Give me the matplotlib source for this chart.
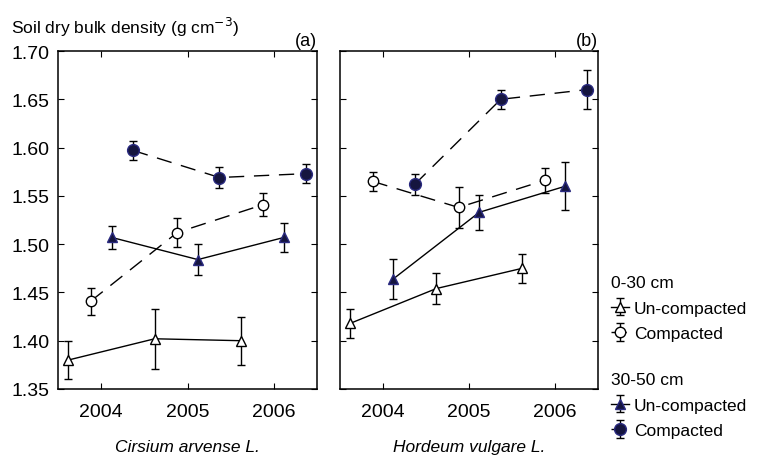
import numpy as np
import matplotlib.pyplot as plt

plt.rcParams['font.family'] = ['Liberation Sans', 'DejaVu Sans']

years = np.array([2004, 2005, 2006])
# offsets keep the four series apart within each year
offsets = {'u030': -0.38, 'c030': -0.12, 'u3050': 0.12, 'c3050': 0.37}

# panel (a) Cirsium arvense
a_u030 = [1.380, 1.402, 1.400]
a_u030_err = [0.020, 0.031, 0.025]
a_c030 = [1.441, 1.512, 1.541]
a_c030_err = [0.014, 0.015, 0.012]
a_u3050 = [1.507, 1.484, 1.507]
a_u3050_err = [0.012, 0.016, 0.015]
a_c3050 = [1.597, 1.569, 1.573]
a_c3050_err = [0.010, 0.011, 0.010]

# panel (b) Hordeum vulgare
b_u030 = [1.418, 1.454, 1.475]
b_u030_err = [0.015, 0.016, 0.015]
b_c030 = [1.565, 1.538, 1.566]
b_c030_err = [0.010, 0.021, 0.013]
b_u3050 = [1.464, 1.533, 1.560]
b_u3050_err = [0.021, 0.018, 0.025]
b_c3050 = [1.562, 1.650, 1.660]
b_c3050_err = [0.011, 0.010, 0.020]

navy = '#15153f'
edge = '#2a2a80'

fig = plt.figure(figsize=(7.65, 4.64), dpi=100)
ax1 = fig.add_axes([0.0758, 0.1595, 0.3386, 0.7284])
ax2 = fig.add_axes([0.4444, 0.1595, 0.3373, 0.7284])

dash = (0, (11, 7))


def draw(ax, u030, u030e, c030, c030e, u3050, u3050e, c3050, c3050e):
    common = dict(capsize=3, elinewidth=1, capthick=1, ecolor='black',
                  lw=1, color='black')
    h1 = ax.errorbar(years + offsets['u030'], u030, yerr=u030e, fmt='^-',
                     mfc='white', mec='black', ms=7, **common)
    h2 = ax.errorbar(years + offsets['c030'], c030, yerr=c030e, fmt='o',
                     ls=dash, mfc='white', mec='black', ms=7.5, **common)
    h3 = ax.errorbar(years + offsets['u3050'], u3050, yerr=u3050e, fmt='^-',
                     mfc=navy, mec=edge, ms=7, **common)
    h4 = ax.errorbar(years + offsets['c3050'], c3050, yerr=c3050e, fmt='o',
                     ls=dash, mfc=navy, mec=edge, ms=8.5, **common)
    ax.set_xlim(2003.5, 2006.5)
    ax.set_ylim(1.35, 1.70)
    ax.set_xticks(years)
    ax.set_yticks(np.arange(1.35, 1.701, 0.05))
    ax.tick_params(direction='in', top=True, right=True, length=4,
                   labelsize=14)
    ax.tick_params(axis='x', pad=10)
    ax.tick_params(axis='y', pad=6)
    for s in ax.spines.values():
        s.set_linewidth(1.1)
    return h1, h2, h3, h4


h = draw(ax1, a_u030, a_u030_err, a_c030, a_c030_err,
         a_u3050, a_u3050_err, a_c3050, a_c3050_err)
draw(ax2, b_u030, b_u030_err, b_c030, b_c030_err,
     b_u3050, b_u3050_err, b_c3050, b_c3050_err)

ax1.yaxis.set_major_formatter(plt.FormatStrFormatter('%.2f'))
ax2.set_yticklabels([])

ax1.set_xlabel('Cirsium arvense L.', fontstyle='italic', fontsize=12.5,
               labelpad=14)
ax2.set_xlabel('Hordeum vulgare L.', fontstyle='italic', fontsize=12.5,
               labelpad=14)

fig.text(0.014, 0.94, 'Soil dry bulk density (g cm$^{-3}$)', fontsize=12.5,
         va='center')
ax1.text(1.0, 1.005, '(a)', transform=ax1.transAxes, ha='right',
         va='bottom', fontsize=13)
ax2.text(1.0, 1.005, '(b)', transform=ax2.transAxes, ha='right',
         va='bottom', fontsize=13)

legend_kw = dict(loc='upper left', frameon=False, fontsize=12.5,
                 title_fontsize=12.5, handlelength=1.0, handletextpad=0.3,
                 labelspacing=0.6, borderpad=0, borderaxespad=0)
leg1 = fig.legend([h[0], h[1]], ['Un-compacted', 'Compacted'],
                  title='0-30 cm', bbox_to_anchor=(0.799, 0.405), **legend_kw)
leg1._legend_box.align = 'left'
leg2 = fig.legend([h[2], h[3]], ['Un-compacted', 'Compacted'],
                  title='30-50 cm', bbox_to_anchor=(0.799, 0.196), **legend_kw)
leg2._legend_box.align = 'left'

fig.savefig('out.png', dpi=100)
